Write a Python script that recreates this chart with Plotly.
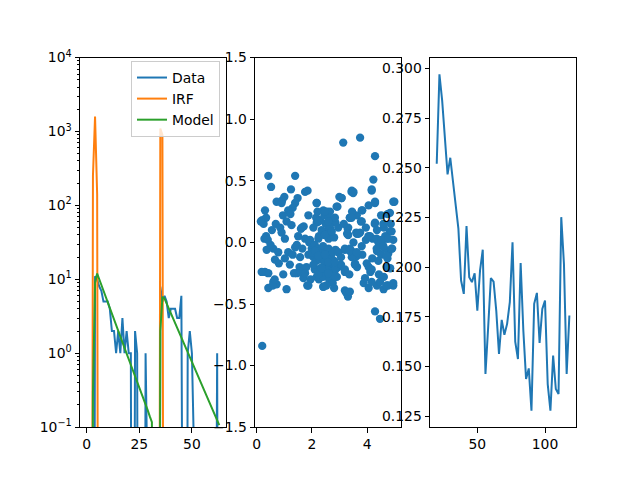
import numpy as np
import plotly.graph_objects as go

# ---------------- data ----------------
bins = list(range(64))
data_counts = [0, 0, 0, 0, 11, 10, 8, 7, 5, 5, 5, 4, 2, 2, 1, 2,
               1, 3, 1, 2, 1, 1, 0, 2, 1, 0, 0, 0, 1, 0, 0, 0,
               0, 0, 0, 8, 5, 6, 5, 3, 4, 4, 4, 3, 3, 6, 0, 0,
               1, 2, 1, 0, 0, 0, 0, 0, 0, 0, 0, 0, 0, 0, 1, 0]
irf_counts = [0, 0, 0, 250, 1600, 140, 0, 0, 0, 0, 0, 0, 0, 0, 0, 0,
              0, 0, 0, 0, 0, 0, 0, 0, 0, 0, 0, 0, 0, 0, 0, 0,
              0, 0, 0, 1100, 900, 0, 0, 0, 0, 0, 0, 0, 0, 0, 0, 0,
              0, 0, 0, 0, 0, 0, 0, 0, 0, 0, 0, 0, 0, 0, 0, 0]
model_counts = [0, 0, 0, 0.3, 9.0, 12.0, 10.0, 8.4, 7.0, 5.9, 4.9, 4.1, 3.45, 2.89, 2.42, 2.02,
                1.69, 1.42, 1.19, 0.99, 0.83, 0.70, 0.58, 0.49, 0.41, 0.34, 0.29, 0.24, 0.20, 0.17, 0.14, 0.117,
                0, 0, 0, 2.0, 5.8, 5.5, 4.72, 4.06, 3.49, 3.00, 2.58, 2.21, 1.90, 1.64, 1.41, 1.21,
                1.04, 0.89, 0.77, 0.66, 0.57, 0.49, 0.42, 0.36, 0.31, 0.27, 0.23, 0.196, 0.169, 0.145, 0.125, 0.107]

# residual scatter (x, y pairs)
resid_x = [
    # x < 2
    0.20, 0.42, 1.39, 0.52, 1.24, 1.00, 0.92, 1.48, 1.75, 1.84, 0.72, 0.90, 1.39, 1.30, 0.30, 1.14,
    1.22, 0.20, 0.34, 0.25, 0.95, 0.69, 1.08, 1.26, 1.60, 1.70, 0.55, 0.85, 0.34, 0.28, 0.40, 0.90,
    1.02, 1.50, 1.75, 1.90, 0.36, 0.60, 0.78, 1.14, 1.39, 1.45, 1.57, 1.87, 0.66, 1.02, 1.30, 1.65,
    0.30, 0.42, 0.96, 1.45, 1.69, 1.55, 0.60, 0.72, 0.42, 1.08, 1.83, 0.80, 1.20, 0.50, 1.80, 1.95,
    0.15, 0.18, 0.58, 0.65, 1.35, 1.60, 1.87, 1.63, 1.93, 1.99, 1.75, 1.87,
    # 2 .. 3
    2.17, 2.41, 2.53, 2.17, 2.29, 2.17, 2.35, 2.41, 2.05, 2.15, 2.30, 2.45, 2.55, 2.65, 2.70, 2.85,
    2.92, 2.99, 2.60, 2.50, 2.35, 2.25, 2.45, 2.60, 2.70, 2.80, 2.10, 2.20, 2.30, 2.40, 2.50, 2.60,
    2.70, 2.85, 2.95, 2.05, 2.15, 2.35, 2.45, 2.55, 2.65, 2.80, 2.95, 2.10, 2.30, 2.45, 2.55, 2.70,
    2.85, 3.05, 2.25, 2.40, 2.62, 2.75, 2.90, 2.00, 2.80, 2.52, 2.65, 2.20,
    2.17, 2.47, 2.89, 2.83, 2.59, 2.23, 2.23, 2.47, 2.71, 2.95, 2.11, 2.23, 2.47, 2.59, 2.83, 2.05,
    2.23, 2.35, 2.59, 2.83, 2.41,
    # x > 3
    3.07, 3.43, 3.37, 3.62, 3.31, 3.31, 3.62, 3.19, 3.43, 3.62, 3.55, 3.19, 3.19, 3.25,
    3.13, 3.74, 4.28, 4.22, 3.44, 3.49, 4.16, 3.07, 4.28, 4.98, 3.37, 3.82, 3.77, 4.50, 4.73, 4.27,
    3.29, 3.27, 3.74, 4.82, 4.20, 4.70, 4.55, 4.40, 3.19, 3.37, 3.80, 3.95, 4.10, 4.76, 4.94, 4.35,
    4.50, 4.62, 3.05, 3.44, 3.82, 4.18, 4.73, 4.40, 3.19, 3.35, 3.63, 4.05, 4.11, 4.42, 4.83, 4.60,
    3.87, 4.05, 4.59, 4.94, 4.75, 4.35, 3.25, 3.30, 4.28, 4.46, 3.50, 3.60, 4.60, 4.85, 4.35, 3.15,
    3.45, 3.95, 4.05, 4.90, 4.65,
    3.50, 4.16, 4.28, 4.94, 3.80, 4.82, 3.43, 3.80, 4.28, 4.58, 4.88, 3.68, 4.04, 4.34, 4.52, 4.76,
    3.37, 3.62, 4.34, 4.58, 4.70, 4.88, 3.56, 3.98, 4.16, 4.70, 3.92, 4.16, 4.46, 4.70, 4.94, 3.37]
resid_y = [
    -0.84, 0.54, 0.54, 0.45, 0.43, 0.37, 0.34, 0.36, 0.41, 0.42, 0.33, 0.32, 0.32, 0.28, 0.26, 0.26,
    0.23, 0.18, 0.20, 0.15, 0.22, 0.15, 0.17, 0.14, 0.11, 0.13, 0.10, 0.12, 0.05, 0.03, 0.02, 0.08,
    0.03, 0.05, 0.03, 0.00, -0.06, -0.05, -0.08, -0.08, -0.04, -0.02, -0.12, -0.10, -0.14, -0.13, -0.10, -0.05,
    -0.24, -0.25, -0.26, -0.25, -0.29, -0.20, -0.32, -0.34, -0.37, -0.38, -0.35, -0.17, -0.18, -0.02, -0.20, -0.30,
    0.17, -0.24, -0.35, -0.30, -0.25, -0.24, 0.22, 0.12, 0.02, -0.05, -0.25, -0.35,
    0.32, 0.26, 0.09, 0.16, -0.14, -0.28, -0.27, -0.36, 0.12, 0.20, 0.18, 0.22, 0.25, 0.25, 0.17, 0.16,
    0.29, 0.37, 0.20, 0.15, 0.10, 0.05, 0.06, 0.03, 0.08, 0.04, -0.02, -0.05, -0.07, -0.03, -0.08, -0.05,
    -0.10, -0.06, -0.08, -0.12, -0.15, -0.12, -0.16, -0.13, -0.18, -0.15, -0.20, -0.22, -0.21, -0.25, -0.22, -0.24,
    -0.22, -0.18, -0.30, -0.28, -0.30, -0.33, -0.28, -0.08, -0.37, -0.35, 0.12, 0.25,
    0.32, 0.25, 0.29, 0.20, 0.17, 0.17, 0.03, 0.06, 0.09, 0.12, -0.07, -0.11, -0.10, -0.16, -0.16, -0.18,
    -0.26, -0.21, -0.25, -0.28, -0.36,
    0.36, 0.41, 0.20, 0.22, 0.12, 0.06, 0.07, -0.06, -0.07, -0.11, -0.18, -0.22, -0.39, -0.41,
    0.81, 0.85, 0.70, 0.51, 0.42, 0.40, 0.43, 0.36, 0.32, 0.33, 0.20, 0.26, 0.17, 0.22, 0.23, 0.15,
    0.11, 0.07, 0.08, 0.09, 0.03, 0.03, -0.02, 0.00, -0.05, -0.05, -0.03, 0.02, 0.05, -0.09, 0.02, -0.07,
    -0.10, -0.05, -0.12, -0.12, -0.10, -0.13, -0.13, -0.15, -0.24, -0.26, -0.20, -0.20, -0.24, -0.26, -0.21, -0.28,
    -0.33, -0.37, -0.38, -0.35, -0.35, -0.35, -0.41, -0.44, -0.56, -0.62, 0.00, 0.08, 0.12, 0.15, 0.10, 0.15,
    0.25, 0.12, 0.30, -0.05, 0.05,
    0.41, 0.42, 0.33, 0.33, 0.26, 0.24, 0.20, 0.17, 0.16, 0.15, 0.09, 0.07, 0.05, 0.03, 0.02, 0.03,
    -0.07, -0.08, -0.05, -0.03, -0.11, -0.05, -0.17, -0.17, -0.22, -0.20, -0.29, -0.32, -0.32, -0.35, -0.33, -0.40]

series_x = list(range(20, 120, 2))
series_y = [0.2521, 0.2971, 0.2840, 0.2656, 0.2467, 0.2551, 0.2436, 0.2320, 0.2194, 0.1933,
            0.1866, 0.2207, 0.1950, 0.1925, 0.1970, 0.1782, 0.1984, 0.2088, 0.1463, 0.1698,
            0.1945, 0.1928, 0.1780, 0.1564, 0.1735, 0.1660, 0.1715, 0.1824, 0.2126, 0.1626,
            0.1538, 0.2021, 0.1680, 0.1438, 0.1491, 0.1278, 0.1816, 0.1871, 0.1619, 0.1790,
            0.1832, 0.1412, 0.1278, 0.1555, 0.1387, 0.1362, 0.2252, 0.2017, 0.1463, 0.1757]

log_ticks = [0.1, 1, 10, 100, 1000, 10000]
log_ticktext = ["10<sup>−1</sup>", "10<sup>0</sup>", "10<sup>1</sup>", "10<sup>2</sup>",
                "10<sup>3</sup>", "10<sup>4</sup>"]
legend_names = ["Data", "IRF", "Model"]

# ---------------- figure ----------------
BLUE, ORANGE, GREEN = "#1f77b4", "#ff7f0e", "#2ca02c"
FONT = dict(family="DejaVu Sans", size=13.9, color="black")


def clip_pos(v):
    a = np.asarray(v, dtype=float)
    return np.where(a > 0, a, 1e-12)


fig = go.Figure()
for name, vals, col in zip(legend_names, [data_counts, irf_counts, model_counts], [BLUE, ORANGE, GREEN]):
    fig.add_trace(go.Scatter(x=bins, y=clip_pos(vals), mode="lines", name=name,
                             line=dict(color=col, width=2), xaxis="x", yaxis="y"))

fig.add_trace(go.Scatter(x=resid_x, y=resid_y, mode="markers", showlegend=False,
                         marker=dict(color=BLUE, size=8.3, line=dict(width=0)),
                         xaxis="x2", yaxis="y2"))

fig.add_trace(go.Scatter(x=series_x, y=series_y, mode="lines", showlegend=False,
                         line=dict(color=BLUE, width=2), xaxis="x3", yaxis="y3"))

axis_common = dict(showline=True, linecolor="black", linewidth=1, mirror=True,
                   ticks="outside", ticklen=4.5, tickwidth=1, tickcolor="black",
                   showgrid=False, zeroline=False, tickfont=FONT, automargin=False)

W, H = 640, 480
ydom = [0.11, 0.88]
d1 = [80 / W, 225.9 / W]
d2 = [255.1 / W, 401.0 / W]
d3 = [430.1 / W, 576.0 / W]

minor_vals = [m * 10 ** e for e in range(-1, 4) for m in range(2, 10)]

fig.update_layout(
    template="none",
    width=W, height=H,
    margin=dict(l=0, r=0, t=0, b=0, pad=0),
    paper_bgcolor="white", plot_bgcolor="white",
    font=FONT,
    xaxis=dict(axis_common, domain=d1, range=[-3.15, 66.15], tickvals=[0, 25, 50], anchor="y"),
    yaxis=dict(axis_common, domain=ydom, type="log", range=[-1, 4], tickvals=log_ticks,
               ticktext=log_ticktext, anchor="x",
               minor=dict(ticks="outside", ticklen=2.5, tickwidth=0.8, tickcolor="black",
                          tickvals=minor_vals, showgrid=False)),
    xaxis2=dict(axis_common, domain=d2, range=[-0.058, 5.22], tickvals=[0, 2, 4], anchor="y2"),
    yaxis2=dict(axis_common, domain=ydom, range=[-1.5, 1.5],
                tickvals=[-1.5, -1.0, -0.5, 0.0, 0.5, 1.0, 1.5], tickformat=".1f", anchor="x2"),
    xaxis3=dict(axis_common, domain=d3, range=[15.1, 122.9], tickvals=[50, 100], anchor="y3"),
    yaxis3=dict(axis_common, domain=ydom, range=[0.1195, 0.3055],
                tickvals=[0.125, 0.150, 0.175, 0.200, 0.225, 0.250, 0.275, 0.300],
                tickformat=".3f", anchor="x3"),
    legend=dict(x=131 / W, y=1 - 61 / H, xanchor="left", yanchor="top",
                bgcolor="rgba(255,255,255,0.8)", bordercolor="#cccccc", borderwidth=1,
                font=FONT, tracegroupgap=0),
    showlegend=True,
)

fig.write_html("out.html")
